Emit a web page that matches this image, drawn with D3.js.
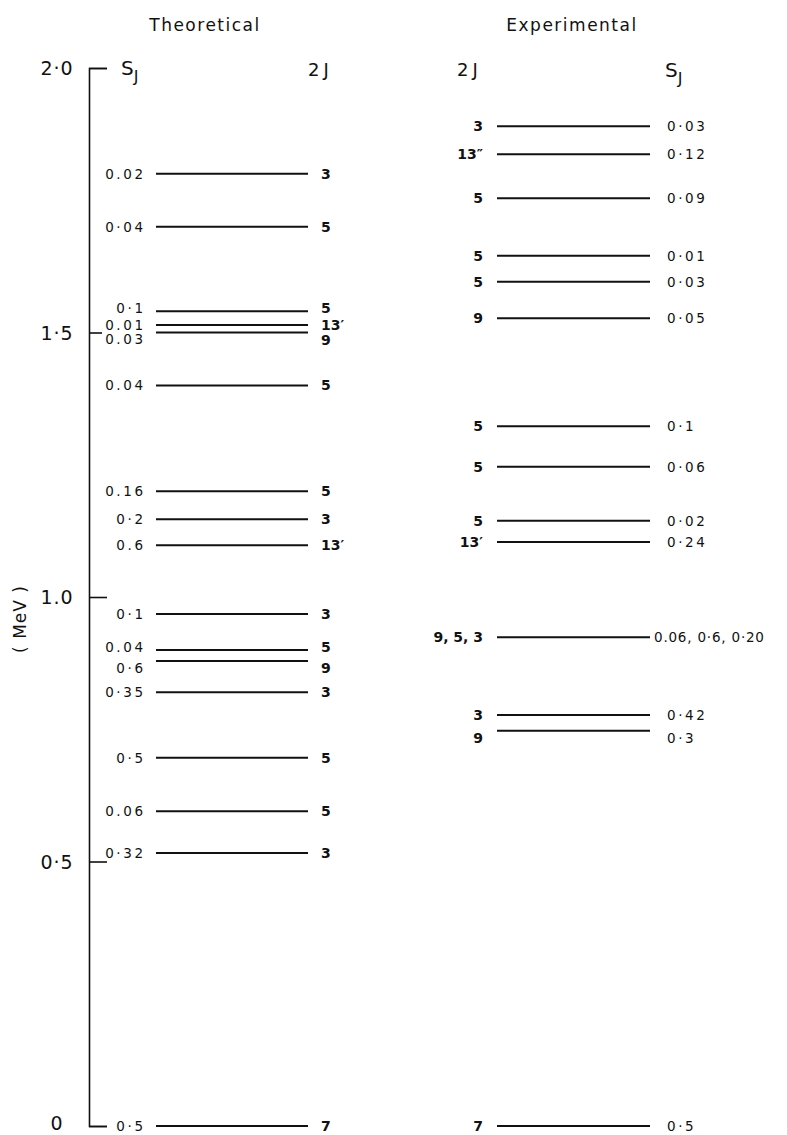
<!DOCTYPE html>
<html><head><meta charset="utf-8">
<script src="https://cdn.jsdelivr.net/npm/d3@7"></script>
<style>
body{margin:0;background:#fff}
text{font-family:"DejaVu Sans",sans-serif;fill:#111}
</style>
</head><body>
<svg id="c" width="787" height="1135"></svg>
<script>
// Axis ticks (MeV)
const tickValues = [0, 0.5, 1.0, 1.5, 2.0];
const tickLabels = ["0", "0·5", "1.0", "1·5", "2·0"];

// Theoretical levels
const theoEnergy = [1.80, 1.70, 1.54, 1.514, 1.50, 1.40, 1.20, 1.147, 1.098, 0.968, 0.90, 0.879, 0.82, 0.696, 0.595, 0.516, 0];
const theoSJ = ["0.02","0·04","0·1","0.01","0.03","0.04","0.16","0·2","0.6","0·1","0.04","0·6","0·35","0·5","0.06","0·32","0·5"];
const theo2J = ["3","5","5","13′","9","5","5","3","13′","3","5","9","3","5","5","3","7"];

// Experimental levels
const expEnergy = [1.89, 1.837, 1.754, 1.645, 1.596, 1.527, 1.323, 1.246, 1.144, 1.104, 0.924, 0.777, 0.747, 0];
const exp2J = ["3","13″","5","5","5","9","5","5","5","13′","9, 5, 3","3","9","7"];
const expSJ = ["0·03","0·12","0·09","0·01","0·03","0·05","0·1","0·06","0·02","0·24","0.06, 0·6, 0·20","0·42","0·3","0·5"];

const svg = d3.select("#c");
const y = d3.scaleLinear().domain([0, 2]).range([1126, 68]);

// axis
const axisG = svg.append("g").attr("transform", "translate(89,0)")
  .call(d3.axisLeft(y).tickValues(tickValues)
    .tickFormat((d, i) => tickLabels[i]).tickSize(-18).tickPadding(18));
axisG.attr("font-family", null).attr("font-size", null);
axisG.select(".domain").attr("stroke", "#111").attr("stroke-width", 1.6);
axisG.selectAll(".tick line").attr("stroke", "#111").attr("stroke-width", 1.6)
  .filter(d => d === 1.5).attr("x2", 13);
axisG.selectAll(".tick text").attr("font-size", 19).attr("letter-spacing", 1)
  .attr("text-anchor", "middle").attr("x", -32)
  .attr("dy", d => d === 0 ? "0.18em" : "0.36em");

// axis title
svg.append("text").attr("transform", "translate(20,619) rotate(-90)")
  .attr("text-anchor", "middle").attr("dy", "0.35em")
  .attr("font-size", 17).attr("letter-spacing", 1).text("( MeV )");

// column titles
svg.append("text").attr("x", 205).attr("y", 31).attr("text-anchor", "middle")
  .attr("font-size", 17).attr("letter-spacing", 1.5).text("Theoretical");
svg.append("text").attr("x", 572).attr("y", 31).attr("text-anchor", "middle")
  .attr("font-size", 17).attr("letter-spacing", 1.5).text("Experimental");

function sj(x, yy) {
  const t = svg.append("text").attr("x", x).attr("y", yy).attr("font-size", 20);
  t.append("tspan").text("S");
  t.append("tspan").attr("dy", 7).attr("font-size", 16).text("J");
}
sj(121, 75);
svg.append("text").attr("x", 308).attr("y", 76).attr("font-size", 18).attr("letter-spacing", 4).text("2J");
svg.append("text").attr("x", 457).attr("y", 76).attr("font-size", 18).attr("letter-spacing", 4).text("2J");
sj(665, 77);

function build(energy, a, b) {
  return energy.map((e, i) => ({e, a: a[i], b: b[i]}));
}
function nudges(data) {
  // spread labels of tight clusters apart a little
  return data.map((d, i) => {
    const gapAbove = i > 0 ? y(d.e) - y(data[i-1].e) : 999;
    const gapBelow = i < data.length - 1 ? y(data[i+1].e) - y(d.e) : 999;
    if (gapAbove < 18 && gapBelow > 18) return 7;
    if (gapAbove > 18 && gapBelow < 15) return -3;
    return 0;
  });
}

const LS = 2.6;
const FS = 13.5;
const theo = build(theoEnergy, theoSJ, theo2J);
const tn = nudges(theo);
const gT = svg.append("g");
gT.selectAll("line").data(theo).join("line")
  .attr("x1", 156).attr("x2", 308)
  .attr("y1", d => y(d.e)).attr("y2", d => y(d.e))
  .attr("stroke", "#111").attr("stroke-width", 2);
gT.selectAll("text.s").data(theo).join("text").attr("class", "s")
  .attr("x", 143 + LS).attr("y", (d, i) => y(d.e) + tn[i]).attr("dy", "0.36em")
  .attr("text-anchor", "end").attr("font-size", FS).attr("letter-spacing", LS)
  .text(d => d.a);
gT.selectAll("text.j").data(theo).join("text").attr("class", "j")
  .attr("x", 321).attr("y", (d, i) => y(d.e) + tn[i]).attr("dy", "0.36em")
  .attr("font-size", 14).attr("font-weight", "bold")
  .text(d => d.b);

const exp = build(expEnergy, exp2J, expSJ);
const en = nudges(exp);
const gE = svg.append("g");
gE.selectAll("line").data(exp).join("line")
  .attr("x1", 497).attr("x2", 650)
  .attr("y1", d => y(d.e)).attr("y2", d => y(d.e))
  .attr("stroke", "#111").attr("stroke-width", 2);
gE.selectAll("text.j").data(exp).join("text").attr("class", "j")
  .attr("x", 483).attr("y", (d, i) => y(d.e) + en[i]).attr("dy", "0.36em")
  .attr("text-anchor", "end").attr("font-size", 14).attr("font-weight", "bold")
  .text(d => d.a);
gE.selectAll("text.s").data(exp).join("text").attr("class", "s")
  .attr("x", d => d.b.length > 6 ? 654 : 667)
  .attr("y", (d, i) => y(d.e) + en[i]).attr("dy", "0.36em")
  .attr("font-size", FS).attr("letter-spacing", d => d.b.length > 6 ? 0.8 : LS)
  .text(d => d.b);
</script>
</body></html>
